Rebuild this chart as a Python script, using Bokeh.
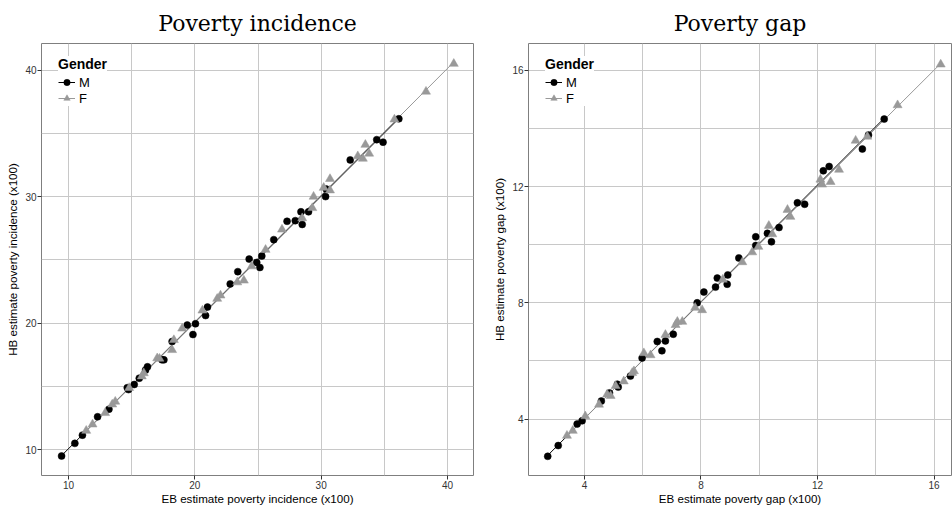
import numpy as np
from bokeh.plotting import figure
from bokeh.layouts import row
from bokeh.models import Range1d, FixedTicker, Legend, LegendItem
from bokeh.embed import file_html
from bokeh.resources import INLINE

# ---------------- data: poverty incidence (x100) ----------------
inc_m_eb = [9.45, 10.5, 11.1, 12.3, 13.2, 14.65, 14.75, 15.2, 15.6, 16.1, 16.25, 17.4, 17.55,
            18.2, 19.4, 19.85, 20.05, 20.85, 21.0, 22.8, 23.4, 24.3, 24.9, 25.15, 25.3,
            26.25, 27.3, 27.95, 28.4, 28.5, 29.0, 30.35, 30.4, 32.3, 34.4, 34.9, 36.15]
inc_m_hb = [9.5, 10.5, 11.15, 12.6, 13.2, 14.9, 14.75, 15.15, 15.65, 16.3, 16.55, 17.1, 17.1,
            18.55, 19.85, 19.1, 19.95, 20.6, 21.27, 23.1, 24.07, 25.06, 24.8, 24.4, 25.3,
            26.6, 28.05, 28.1, 28.8, 27.8, 28.8, 30.0, 30.6, 32.9, 34.5, 34.3, 36.15]
inc_f_eb = [11.4, 11.9, 12.9, 13.46, 13.7, 14.8, 15.8, 15.96, 17.02, 17.2, 18.2, 18.34, 19.0,
            20.6, 21.77, 22.03, 23.36, 23.88, 24.5, 25.6, 26.9, 28.5, 29.3, 29.4, 30.2,
            30.7, 30.7, 32.9, 33.3, 33.8, 33.5, 35.8, 38.3, 40.5]
inc_f_hb = [11.5, 12.0, 12.9, 13.58, 13.8, 14.88, 15.8, 16.05, 17.23, 17.2, 17.88, 18.67, 19.58,
            21.0, 21.93, 22.19, 23.23, 23.37, 24.5, 25.8, 27.4, 28.3, 29.1, 30.0, 30.7,
            31.4, 30.5, 33.2, 33.0, 33.4, 34.1, 36.1, 38.3, 40.5]

# ---------------- data: poverty gap (x100) ----------------
gap_m_eb = [2.74, 3.1, 3.75, 3.92, 4.58, 4.86, 5.13, 5.16, 5.58, 5.98, 6.5, 6.66, 6.78, 7.05,
            7.87, 8.1, 8.5, 8.56, 8.9, 8.92, 9.3, 9.88, 9.88, 10.28, 10.42, 10.68, 11.31,
            11.56, 12.2, 12.4, 13.54, 13.75, 14.29]
gap_m_hb = [2.72, 3.09, 3.83, 3.94, 4.62, 4.9, 5.2, 5.1, 5.48, 6.1, 6.67, 6.35, 6.69, 6.92,
            8.0, 8.37, 8.54, 8.85, 8.64, 8.96, 9.54, 10.27, 9.97, 10.39, 10.1, 10.59, 11.44,
            11.39, 12.54, 12.69, 13.29, 13.77, 14.32]
gap_f_eb = [3.4, 3.6, 4.03, 4.5, 4.78, 4.9, 5.07, 5.35, 5.64, 5.7, 6.04, 6.27, 6.78, 7.13,
            7.19, 7.36, 7.8, 8.04, 8.75, 9.42, 9.76, 9.97, 10.33, 10.45, 10.97, 11.07, 12.1,
            12.16, 12.45, 12.74, 13.31, 13.71, 14.75, 16.23]
gap_f_hb = [3.43, 3.6, 4.1, 4.5, 4.85, 4.8, 5.14, 5.3, 5.59, 5.65, 6.27, 6.2, 6.9, 7.24,
            7.35, 7.35, 7.83, 7.75, 8.8, 9.4, 9.74, 9.93, 10.65, 10.36, 11.2, 10.96, 12.24,
            12.07, 12.16, 12.58, 13.58, 13.72, 14.8, 16.2]

genders = ["M", "F"]
inc_ticks = [10, 20, 30, 40]
inc_minor = [15, 25, 35]
gap_ticks = [4, 8, 12, 16]
gap_minor = [6, 10, 14]

COL = {"M": "#000000", "F": "#999999"}
GRID = "#c8c8c8"


def make_panel(title, xlabel, ylabel, m, f, xr, yr, ticks, minor, width,
               left, right, title_offset=0):
    p = figure(width=width, height=510,
               x_range=Range1d(*xr), y_range=Range1d(*yr),
               output_backend="svg", toolbar_location=None,
               min_border_left=left, min_border_right=right,
               min_border_top=39, min_border_bottom=35)
    p.title.text = title
    p.title.align = "center"
    p.title.offset = title_offset
    p.title.text_font = "DejaVu Serif"
    p.title.text_font_style = "normal"
    p.title.text_font_size = "22px"
    p.title.text_line_height = 1.0
    p.title.text_color = "#000000"
    p.title.standoff = 16
    p.outline_line_color = "#7f7f7f"
    p.outline_line_width = 1
    p.background_fill_color = "white"
    p.border_fill_color = "white"

    for ax in (p.xaxis[0], p.yaxis[0]):
        ax.ticker = FixedTicker(ticks=ticks, minor_ticks=minor)
        ax.axis_line_color = None
        ax.major_tick_in = 0
        ax.major_tick_out = 4
        ax.major_tick_line_color = "#333333"
        ax.minor_tick_line_color = None
        ax.major_label_text_font = "Liberation Sans"
        ax.major_label_text_font_size = "10px"
        ax.major_label_text_line_height = 1.0
        ax.major_label_text_color = "#333333"
        ax.major_label_standoff = 1
        ax.axis_label_text_font = "Liberation Sans"
        ax.axis_label_text_font_size = "11.6px"
        ax.axis_label_text_line_height = 1.0
        ax.axis_label_text_font_style = "normal"
        ax.axis_label_text_color = "#000000"
        ax.axis_label_standoff = 0
    p.xaxis.axis_label = xlabel
    p.yaxis.axis_label = ylabel
    p.yaxis.axis_label_standoff = 3

    for g in (p.xgrid[0], p.ygrid[0]):
        g.grid_line_color = GRID
        g.grid_line_width = 1
        g.minor_grid_line_color = GRID
        g.minor_grid_line_width = 1

    lines = {}
    for key, (xs, ys) in zip(genders, (m, f)):
        xs = np.asarray(xs)
        ys = np.asarray(ys)
        b, a = np.polyfit(xs, ys, 1)
        lx = np.array([xs.min(), xs.max()])
        lines[key] = p.line(lx, a + b * lx, line_color=COL[key], line_width=1)
    pts = {}
    for key, (xs, ys) in zip(genders, (m, f)):
        if key == "M":
            pts[key] = p.scatter(xs, ys, marker="circle", size=7, fill_color=COL[key],
                                 line_color=COL[key], line_width=0.5)
        else:
            pts[key] = p.scatter(xs, ys, marker="triangle", size=9, fill_color=COL[key],
                                 line_color=COL[key], line_width=0.5)
    legend = Legend(items=[LegendItem(label=k, renderers=[lines[k], pts[k]]) for k in genders],
                    title="Gender", location=(17, 369))
    legend.title_text_font = "Liberation Sans"
    legend.title_text_font_style = "bold"
    legend.title_text_font_size = "14px"
    legend.title_text_color = "#000000"
    legend.title_standoff = 2
    legend.label_text_font = "Liberation Sans"
    legend.label_text_font_size = "13px"
    legend.label_text_color = "#000000"
    legend.label_standoff = 4
    legend.glyph_width = 17
    legend.glyph_height = 16
    legend.label_height = 16
    legend.spacing = 0
    legend.padding = 4
    legend.margin = 0
    legend.border_line_color = None
    legend.background_fill_color = "white"
    legend.background_fill_alpha = 1
    p.add_layout(legend, "center")
    return p


p1 = make_panel("Poverty incidence", "EB estimate poverty incidence (x100)",
                "HB estimate poverty incidence (x100)",
                (inc_m_eb, inc_m_hb), (inc_f_eb, inc_f_hb),
                (7.86, 42.06), (7.96, 42.1), inc_ticks, inc_minor, 486, 41, 13)
p2 = make_panel("Poverty gap", "EB estimate poverty gap (x100)",
                "HB estimate poverty gap (x100)",
                (gap_m_eb, gap_m_hb), (gap_f_eb, gap_f_hb),
                (2.08, 16.6), (2.06, 16.92), gap_ticks, gap_minor, 466, 42, 1,
                title_offset=4)

layout = row(p1, p2, spacing=0)
open("out.html", "w").write(file_html(layout, INLINE))
